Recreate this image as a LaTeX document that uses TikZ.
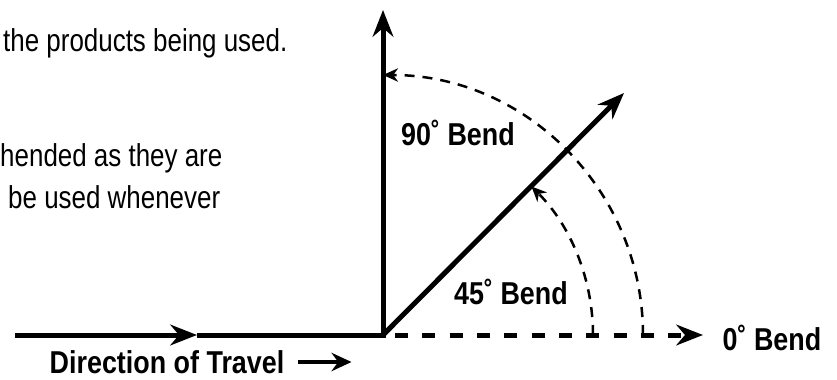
\documentclass[tikz,border=0pt]{standalone}
\usepackage{fontspec}
\setmainfont{Liberation Sans}[FakeStretch=0.85]
\newfontfamily\bodyfont{Liberation Sans}[FakeStretch=0.82]
\usetikzlibrary{arrows.meta, positioning}

\begin{document}
\begin{tikzpicture}[x=0.03cm, y=0.03cm]
\tikzset{
  pipe/.style={line width=0.15cm, line join=miter},
  bigtip/.style={-{Stealth[length=0.8cm, width=0.62cm, inset=0.26cm]}},
  smalltip/.style={-{Stealth[length=0.45cm, width=0.4cm, inset=0.14cm]}},
  dashline/.style={line width=0.15cm, dash pattern=on 0.39cm off 0.43cm},
  bendarc/.style={line width=0.075cm, dash pattern=on 0.3cm off 0.24cm},
  bendlabel/.style={font=\bfseries\fontsize{27}{30}\selectfont, inner sep=0pt},
  notetext/.style={font=\bodyfont\fontsize{27}{30}\selectfont, inner sep=0pt, anchor=west}
}
\useasboundingbox (0,0) rectangle (837,379);

% text cut off on the left
\node[notetext] (n1) at (3,336) {the products being used.};
\node[notetext] (n2) at (0,221) {hended as they are};
\node[notetext] (n3) at (8,182) {be used whenever};

% bends
\coordinate (O) at (383,44);
\coordinate (in) at (15,44);
\coordinate (mid) at (197,44);
\coordinate (top) at (383,369);
\coordinate (diag) at (624,286);
\coordinate (zero) at (703,44);
\coordinate (r90) at (643,44);
\coordinate (r45) at (593,44);

\draw[pipe, bigtip] (in) -- (mid);
\draw[pipe, bigtip] (mid) -- (O) -- (top);
\draw[pipe, bigtip] (O) -- (diag);
\draw[dashline, bigtip] ([xshift=0.36cm]O) -- (zero);

\draw[bendarc, smalltip] (r90) arc[start angle=0, end angle=90, radius=260];
\draw[bendarc, smalltip] (r45) arc[start angle=0, end angle=45, radius=210];

\node[bendlabel] (b90) at (458,246) {90˚ Bend};
\node[bendlabel] (b45) at (511,87) {45˚ Bend};
\node[bendlabel] (b0) at (772,41) {0˚ Bend};

\node[bendlabel] (dir) at (167,17) {Direction of Travel};
\coordinate (dirA) at ([xshift=0.39cm]dir.east);
\coordinate[right=1.62cm of dirA] (dirB);
\draw[line width=0.1cm, -{Stealth[length=0.6cm, width=0.55cm, inset=0.2cm]}] (dirA) -- (dirB);
\end{tikzpicture}
\end{document}
